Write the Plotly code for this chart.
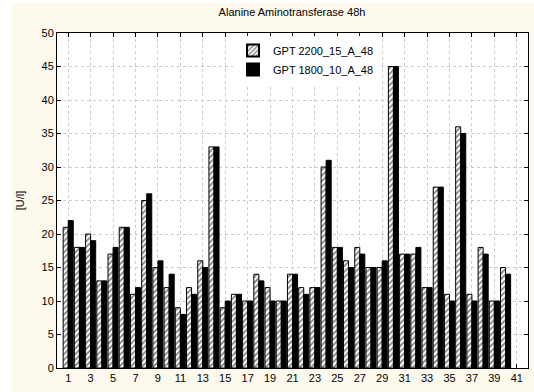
import plotly.graph_objects as go

samples = list(range(1, 41))
gpt_2200 = [21, 18, 20, 13, 17, 21, 11, 25, 15, 12, 9, 12, 16, 33, 9, 11, 10, 14, 12, 10,
            14, 12, 12, 30, 18, 16, 18, 15, 15, 45, 17, 17, 12, 27, 11, 36, 11, 18, 10, 15]
gpt_1800 = [22, 18, 19, 13, 18, 21, 12, 26, 16, 14, 8, 11, 15, 33, 10, 11, 10, 13, 10, 10,
            14, 11, 12, 31, 18, 15, 17, 15, 16, 45, 17, 18, 12, 27, 10, 35, 10, 17, 10, 14]
name_a = "GPT 2200_15_A_48"
name_b = "GPT 1800_10_A_48"
title = "Alanine Aminotransferase 48h"
y_title = "[U/l]"

W, H = 534, 392
L, R, T, B = 57, 6, 33, 24
pw, ph = W - L - R, H - T - B

fig = go.Figure()
fig.add_trace(go.Bar(
    x=samples, y=gpt_2200, name=name_a,
    marker=dict(color="white", line=dict(color="black", width=1),
                pattern=dict(shape="/", fgcolor="black", bgcolor="white", size=4, solidity=0.45)),
))
fig.add_trace(go.Bar(
    x=samples, y=gpt_1800, name=name_b,
    marker=dict(color="black", line=dict(color="black", width=1)),
))

font = "Liberation Sans, Arial, sans-serif"
fig.update_layout(
    width=W, height=H,
    margin=dict(l=L, r=R, t=T, b=B, pad=0),
    paper_bgcolor="white", plot_bgcolor="white",
    barmode="group", bargap=0.1, bargroupgap=0.0,
    font=dict(family=font, size=11, color="black"),
    title=dict(text=title, x=(292 / W), xanchor="center", y=1 - 12 / H, yanchor="middle",
               font=dict(size=11, family=font)),
    showlegend=True,
    legend=dict(x=(233 - L) / pw, xanchor="left", y=1 - (36 - T) / ph, yanchor="top",
                bgcolor="white", borderwidth=0, font=dict(size=11, family=font),
                tracegroupgap=0, itemsizing="constant"),
    xaxis=dict(range=[0, 42], tick0=1, dtick=2, ticks="inside", ticklen=4, tickcolor="black",
               showline=True, linecolor="black", linewidth=1, mirror="allticks",
               showgrid=True, gridcolor="#cccccc", griddash="dot", gridwidth=1,
               zeroline=False, tickfont=dict(size=11)),
    yaxis=dict(range=[0, 50], dtick=5, ticks="inside", ticklen=4, tickcolor="black",
               showline=True, linecolor="black", linewidth=1, mirror="allticks",
               showgrid=True, gridcolor="#cccccc", griddash="dot", gridwidth=1,
               zeroline=False, tickfont=dict(size=11),
               title=dict(text=y_title, font=dict(size=11), standoff=14)),
    shapes=[
        dict(type="rect", xref="paper", yref="paper", layer="below",
             x0=(12 - L) / pw, x1=(W - L) / pw, y0=-(B) / ph - 0.01, y1=(H - 3 - B) / ph,
             fillcolor="#fef9ed", line=dict(width=0)),
        dict(type="rect", xref="paper", yref="paper", layer="below",
             x0=0, x1=1, y0=0, y1=1, fillcolor="white", line=dict(width=0)),
    ],
)

fig.write_html("out.html", config={"displayModeBar": False},
               post_script="document.body.style.margin='0';")
